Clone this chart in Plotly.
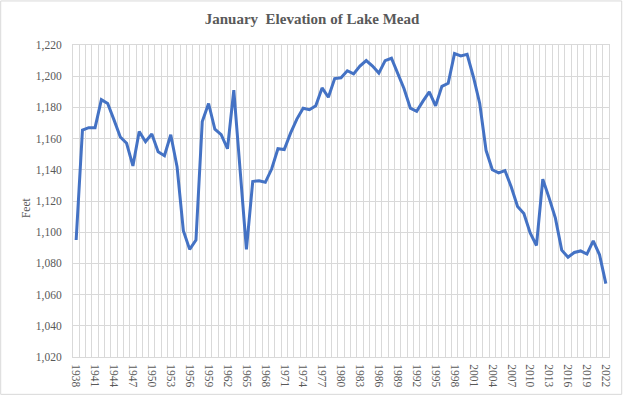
import plotly.graph_objects as go

years = list(range(1938, 2023))
elevation = [
    1095, 1165.5, 1167, 1167, 1185, 1182.5, 1172, 1161, 1157, 1142.5,
    1164.5, 1158, 1163, 1151.5, 1149, 1162.5, 1142, 1101, 1089, 1095,
    1171, 1182.5, 1166, 1162.5, 1153.5, 1191, 1140, 1089, 1132.5, 1133,
    1132, 1140.5, 1153.5, 1153, 1163.5, 1172.5, 1179.5, 1178.5, 1181, 1192.5,
    1186.5, 1198.5, 1199, 1203.5, 1201.5, 1206.5, 1210, 1206.5, 1202, 1210,
    1211.5, 1202, 1192, 1179.5, 1177.5, 1184, 1190, 1181, 1193.5, 1195.5,
    1214.5, 1213, 1214, 1199.5, 1182.5, 1152.5, 1140, 1138, 1139.5, 1129,
    1116.5, 1112, 1099.5, 1091.5, 1134, 1122, 1109, 1088.5, 1084, 1087,
    1088, 1086, 1094.5, 1085.5, 1067,
]
x_tick_years = list(range(1938, 2023, 3))
y_ticks = list(range(1020, 1221, 20))

FONT = "Liberation Serif, Times New Roman, serif"
GRID = "#d9d9d9"
TXT = "#595959"

fig = go.Figure()
fig.add_trace(go.Scatter(
    x=years, y=elevation, mode="lines",
    line=dict(color="#4472C4", width=3),
    hoverinfo="x+y",
))

fig.update_layout(
    width=624, height=397,
    margin=dict(l=73, r=15, t=45, b=40, autoexpand=False),
    paper_bgcolor="white", plot_bgcolor="white",
    showlegend=False,
    title=dict(text="<b>January  Elevation of Lake Mead</b>",
               x=0.5, xanchor="center", y=0.953, yanchor="middle",
               font=dict(family=FONT, size=15, color=TXT)),
    font=dict(family=FONT, color=TXT),
)

fig.update_xaxes(
    range=[1937.5, 2022.5], automargin=False,
    tickmode="array", tickvals=x_tick_years,
    ticktext=[str(y) for y in x_tick_years],
    tickangle=90, tickfont=dict(family=FONT, size=11.5, color=TXT),
    showgrid=False, zeroline=False,
    showline=True, mirror=True, linecolor=GRID, linewidth=1,
    minor=dict(dtick=1, tick0=1937.5, showgrid=True, gridcolor=GRID, gridwidth=1),
    ticks="", ticklabelstandoff=4,
)
fig.update_yaxes(
    range=[1020, 1220], automargin=False,
    tickmode="array", tickvals=y_ticks,
    ticktext=[f"{v:,}" for v in y_ticks],
    tickfont=dict(family=FONT, size=11.5, color=TXT),
    showgrid=True, gridcolor=GRID, gridwidth=1, zeroline=False,
    showline=True, mirror=True, linecolor=GRID, linewidth=1,
    ticks="", ticklabelstandoff=8,
)

fig.add_annotation(
    text="Feet", xref="paper", yref="paper", x=-0.088, y=0.48,
    textangle=-90, showarrow=False, xanchor="center", yanchor="middle",
    font=dict(family=FONT, size=11.5, color=TXT),
)

fig.add_shape(
    type="rect", xref="paper", yref="paper",
    x0=-0.1349, x1=1.0237, y0=-0.1197, y1=1.1412,
    line=dict(color=GRID, width=1), fillcolor="rgba(0,0,0,0)", layer="below",
)

fig.write_html("out.html", config={"displayModeBar": False},
               post_script="document.body.style.margin='0';")
